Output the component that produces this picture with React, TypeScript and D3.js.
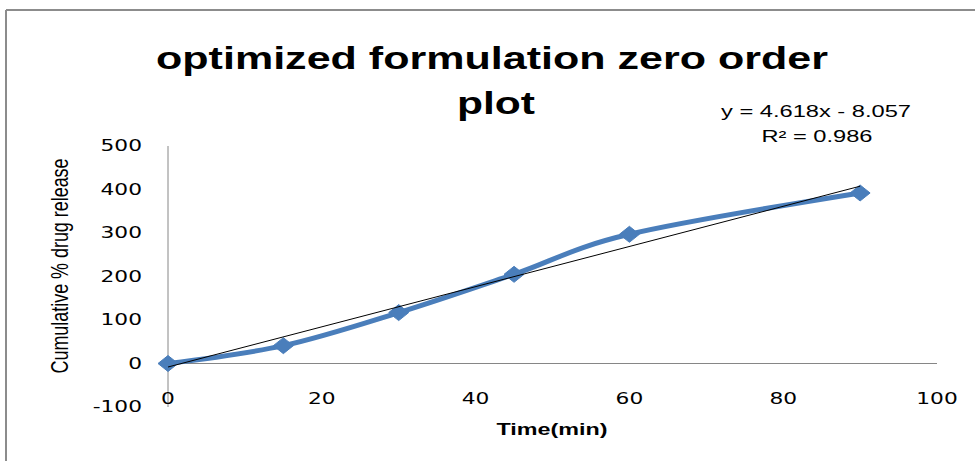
import React from "react";
import * as d3 from "d3";

const timeMin = [0, 15, 30, 45, 60, 90];
const releasePct = [0, 41, 117, 205, 297, 392];
const xTicks = [0, 20, 40, 60, 80, 100];
const yTicks = [-100, 0, 100, 200, 300, 400, 500];
const trendSlope = 4.618;
const trendIntercept = -8.057;
const trendRange = [0, 90];
const titleLines = ["optimized formulation zero order", "plot"];
const equationText = "y = 4.618x - 8.057";
const r2Text = "R² = 0.986";
const xTitle = "Time(min)";
const yTitle = "Cumulative % drug release";

export default function App() {
  const W = 975, H = 461;
  const x = d3.scaleLinear().domain([0, 100]).range([168, 937]);
  const y = d3.scaleLinear().domain([-100, 500]).range([407, 146]);
  const pts: [number, number][] = timeMin.map((t, i) => [x(t), y(releasePct[i])]);
  const line = d3.line().curve(d3.curveCatmullRom.alpha(0))(pts) || "";
  const trend = d3.line()(trendRange.map((t) => [x(t), y(trendSlope * t + trendIntercept)] as [number, number])) || "";
  const diamond = (cx: number, cy: number) =>
    `M${cx - 10},${cy} L${cx},${cy - 8} L${cx + 10},${cy} L${cx},${cy + 8} Z`;
  const blue = "#4a7ebb";
  const axisColor = "#868686";
  const tickFont = "'DejaVu Sans', Verdana, sans-serif";
  const bodyFont = "'Liberation Sans', Arial, sans-serif";

  return (
    <svg
      width={W}
      height={H}
      style={{ position: "absolute", left: 0, top: 0, background: "#fff" }}
    >
      <rect x={0} y={0} width={W} height={H} fill="#fff" />
      {/* frame */}
      <line x1={6} y1={10} x2={W} y2={10} stroke="#8c8c8c" strokeWidth={2} />
      <line x1={6} y1={10} x2={6} y2={H} stroke="#8c8c8c" strokeWidth={2} />

      {/* title */}
      <text x={492} y={69} textAnchor="middle" fontFamily={bodyFont} fontWeight="bold" fontSize={32}
        textLength={672} lengthAdjust="spacingAndGlyphs" fill="#000">{titleLines[0]}</text>
      <text x={496} y={114} textAnchor="middle" fontFamily={bodyFont} fontWeight="bold" fontSize={32}
        textLength={78} lengthAdjust="spacingAndGlyphs" fill="#000">{titleLines[1]}</text>

      {/* equation */}
      <text x={816} y={117} textAnchor="middle" fontFamily={bodyFont} fontSize={16}
        textLength={190} lengthAdjust="spacingAndGlyphs" fill="#000">{equationText}</text>
      <text x={817} y={142} textAnchor="middle" fontFamily={bodyFont} fontSize={16}
        textLength={111} lengthAdjust="spacingAndGlyphs" fill="#000">{r2Text}</text>

      {/* axes */}
      <line x1={x(0)} y1={y(500)} x2={x(0)} y2={y(-100)} stroke={axisColor} strokeWidth={1} />
      <line x1={x(0)} y1={y(0)} x2={x(100)} y2={y(0)} stroke={axisColor} strokeWidth={1} />

      {yTicks.map((v) => (
        <text key={"y" + v} transform={`translate(142,${y(v)}) scale(1.45,1)`} textAnchor="end"
          dominantBaseline="central" fontFamily={tickFont} fontSize={15} fill="#000">{v}</text>
      ))}
      {xTicks.map((v) => (
        <text key={"x" + v} transform={`translate(${x(v)},399) scale(1.45,1)`} textAnchor="middle"
          dominantBaseline="central" fontFamily={tickFont} fontSize={15} fill="#000">{v}</text>
      ))}

      {/* axis titles */}
      <text x={552} y={435} textAnchor="middle" fontFamily={bodyFont} fontWeight="bold" fontSize={17}
        textLength={111} lengthAdjust="spacingAndGlyphs" fill="#000">{xTitle}</text>
      <text transform="translate(68,266) rotate(-90) scale(1,1.45)" textAnchor="middle" fontFamily={bodyFont}
        fontSize={17} textLength={215} lengthAdjust="spacingAndGlyphs" fill="#000">{yTitle}</text>

      {/* series */}
      <path d={line} fill="none" stroke={blue} strokeWidth={5} strokeLinejoin="round" strokeLinecap="round" />
      {pts.map(([cx, cy], i) => (
        <path key={"m" + i} d={diamond(cx, cy)} fill={blue} stroke={blue} strokeWidth={1} />
      ))}
      {/* trendline */}
      <path d={trend} fill="none" stroke="#000" strokeWidth={1} />
    </svg>
  );
}
